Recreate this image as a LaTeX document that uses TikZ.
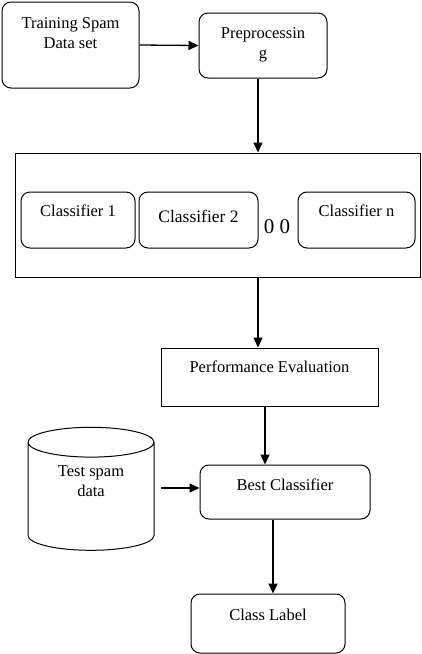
\documentclass[tikz,border=0pt]{standalone}
\usepackage{fontspec}
\setmainfont{Liberation Serif}
\usetikzlibrary{arrows.meta,positioning,shapes.geometric,calc}

\begin{document}
\begin{tikzpicture}[x=1pt, y=-1pt,
  every node/.append style={inner sep=0pt, font=\fontsize{16.5}{20}\selectfont},
  rbox/.style={draw, line width=1pt, rounded corners=9pt, align=center},
  sbox/.style={draw, line width=1pt, align=center},
  store/.style={draw, line width=1pt, cylinder, shape border rotate=90, aspect=0.45, align=center},
  arr/.style={-{Triangle[length=10pt,width=9pt]}, line width=1.3pt},
  thickarr/.style={arr, line width=2.2pt}
]
\useasboundingbox (0,0) rectangle (422,654);

% input and preprocessing
\node[rbox, minimum width=137pt, text height=46pt, text depth=40pt] (train) at (70.5,45) {Training Spam\\Data set};
\node[rbox, minimum width=128pt, text height=45pt, text depth=20pt] (prep) at (263,45.5) {Preprocessin\\g};

% classifier group
\node[sbox, minimum width=405pt, minimum height=124pt] (group) at (217.5,215) {};
\node[rbox, minimum width=114pt, text height=24pt, text depth=32pt] (cls1) at (78,220) {Classifier 1};
\node[rbox, minimum width=119pt, text height=30pt, text depth=26pt, font=\fontsize{17.5}{20}\selectfont] (cls2) at (198.5,220) {Classifier 2};
\node[anchor=base, font=\fontsize{21}{24}\selectfont] (dots) at (277,233) {0 0};
\node[rbox, minimum width=117pt, text height=24pt, text depth=32pt] (clsn) at (356.5,220) {Classifier n};

% evaluation and output
\node[sbox, minimum width=217pt, text height=24pt, text depth=34pt] (perf) at (269.5,377) {Performance Evaluation};
\node[rbox, minimum width=170pt, text height=25pt, text depth=29pt] (best) at (285,492) {Best Classifier};
\node[store, minimum width=126pt, minimum height=123pt, text height=25pt, text depth=26pt] (test) at (91,496.5) {Test spam\\data};
\node[rbox, minimum width=154pt, text height=26pt, text depth=33pt] (label) at (268,623.5) {Class Label};

\coordinate (col) at (258,0);
\coordinate (in) at ([yshift=4pt]best.west);

% arrows
\draw[arr] (train.east) -- (prep.west);
\draw[arr] (prep.south -| col) -- (group.north -| col);
\draw[arr] (group.south -| col) -- (perf.north -| col);
\draw[arr] ([xshift=-4.5pt]perf.south) -- ([xshift=-4.5pt]perf.south |- best.north);
\draw[arr, shorten <=6pt] (in -| test.east) -- (in);
\draw[thickarr] ([xshift=-12pt]best.south) -- ([xshift=-12pt]best.south |- label.north);
\end{tikzpicture}
\end{document}
